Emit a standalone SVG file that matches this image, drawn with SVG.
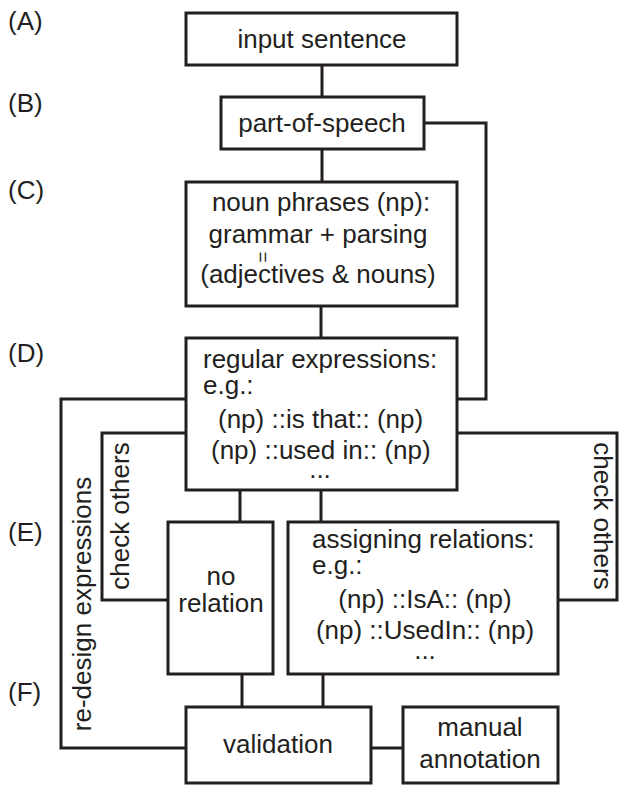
<svg xmlns="http://www.w3.org/2000/svg" width="619" height="785" viewBox="0 0 619 785">
<style>
.box{fill:#fff;stroke:#231f20;stroke-width:3}
.ln{fill:none;stroke:#231f20;stroke-width:3}
text{font-family:"Liberation Sans",Arial,sans-serif;font-size:26px;fill:#231f20}
.c{text-anchor:middle}
</style>
<rect width="619" height="785" fill="#fff"/>
<g id="labels">
<text x="8" y="30">(A)</text>
<text x="8" y="112">(B)</text>
<text x="8" y="199">(C)</text>
<text x="8" y="362">(D)</text>
<text x="8" y="541">(E)</text>
<text x="8" y="701">(F)</text>
</g>
<g id="connectors">
<path class="ln" d="M322 65V97"/>
<path class="ln" d="M322 149V182"/>
<path class="ln" d="M321 306V338"/>
<path class="ln" d="M424 123H486V399H457"/>
<path class="ln" d="M186 399H61V748H186"/>
<path class="ln" d="M186 433H102V600H168"/>
<path class="ln" d="M457 433H617V600H558"/>
<path class="ln" d="M240 490V522"/>
<path class="ln" d="M321 490V522"/>
<path class="ln" d="M242 674V707"/>
<path class="ln" d="M323 674V707"/>
<path class="ln" d="M371 748H403"/>
<text class="c" transform="translate(82 604) rotate(-90)" dy="9">re-design expressions</text>
<text class="c" transform="translate(120 516) rotate(-90)" dy="9">check others</text>
<text class="c" transform="translate(603 516) rotate(90)" dy="9">check others</text>
</g>
<g id="input">
<rect class="box" x="186" y="13" width="271" height="52"/>
<text class="c" x="322" y="48">input sentence</text>
</g>
<g id="pos">
<rect class="box" x="221" y="97" width="203" height="52"/>
<text class="c" x="322" y="132">part-of-speech</text>
</g>
<g id="np">
<rect class="box" x="186" y="182" width="271" height="124"/>
<text class="c" x="321" y="211">noun phrases (np):</text>
<text class="c" x="318" y="243">grammar + parsing</text>
<text class="c" transform="translate(263 257) rotate(90)" dy="6" style="font-size:19px">=</text>
<text class="c" x="318" y="283">(adjectives &amp; nouns)</text>
</g>
<g id="regex">
<rect class="box" x="186" y="338" width="271" height="152"/>
<text x="203" y="368">regular expressions:</text>
<text x="203" y="394">e.g.:</text>
<text x="218" y="428">(np) ::is that:: (np)</text>
<text x="211" y="459">(np) ::used in:: (np)</text>
<text class="c" x="320" y="478">...</text>
</g>
<g id="norel">
<rect class="box" x="168" y="522" width="105" height="152"/>
<text class="c" x="221" y="585">no</text>
<text class="c" x="221" y="612">relation</text>
</g>
<g id="assign">
<rect class="box" x="288" y="522" width="270" height="152"/>
<text x="312" y="548">assigning relations:</text>
<text x="312" y="574">e.g.:</text>
<text class="c" x="425" y="608">(np) ::IsA:: (np)</text>
<text class="c" x="425" y="639">(np) ::UsedIn:: (np)</text>
<text class="c" x="425" y="659">...</text>
</g>
<g id="validation">
<rect class="box" x="186" y="707" width="185" height="76"/>
<text class="c" x="278" y="753">validation</text>
</g>
<g id="manual">
<rect class="box" x="403" y="707" width="155" height="76"/>
<text class="c" x="480" y="736">manual</text>
<text class="c" x="480" y="768">annotation</text>
</g>
</svg>
